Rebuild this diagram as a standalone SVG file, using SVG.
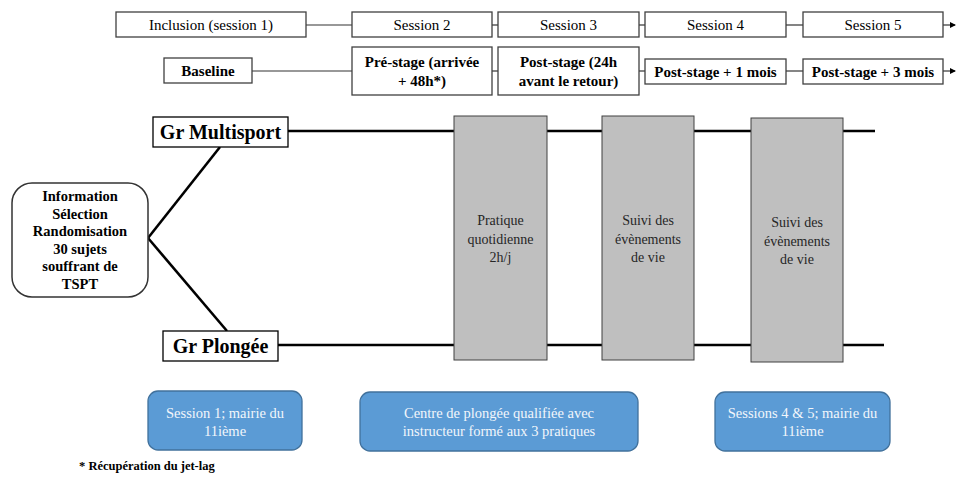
<svg xmlns="http://www.w3.org/2000/svg" width="956" height="477" viewBox="0 0 956 477">
<defs>
<marker id="arr" markerWidth="6" markerHeight="6" refX="5" refY="3" orient="auto" markerUnits="userSpaceOnUse">
<path d="M0,0 L6,3 L0,6 z" fill="#000"/>
</marker>
<style>
text{font-family:'Liberation Serif','Times New Roman',Times,'DejaVu Serif',serif;text-anchor:middle;fill:#000}
.box{fill:#fff;stroke:#404040;stroke-width:1.3}
.t14{font-size:15px}
.b13{font-size:15px;font-weight:bold}
.b18{font-size:20px;font-weight:bold}
.b14{font-size:14.5px;font-weight:bold}
.gray{fill:#BFBFBF;stroke:#404040;stroke-width:1}
.gt{font-size:14px;fill:#262626}
.blue{fill:#5B9BD5;stroke:#41719C;stroke-width:1.3}
.wt{font-size:14.5px;fill:#F2F6FB}
.thin{stroke:#333;stroke-width:1.2;fill:none}
.thick{stroke:#000;stroke-width:2.6;fill:none}
</style>
</defs>
<rect width="956" height="477" fill="#fff"/>
<g font-family="Liberation Serif, Times New Roman, DejaVu Serif, serif">
<g id="connectors">
<line class="thin" x1="306" y1="25" x2="352" y2="25"/>
<line class="thin" x1="492" y1="25" x2="498" y2="25"/>
<line class="thin" x1="639" y1="25" x2="645" y2="25"/>
<line class="thin" x1="786" y1="25" x2="803" y2="25"/>
<line class="thin" x1="943" y1="25" x2="955" y2="25" marker-end="url(#arr)"/>
<line class="thin" x1="252" y1="71" x2="352" y2="71"/>
<line class="thin" x1="492" y1="71" x2="498" y2="71"/>
<line class="thin" x1="639" y1="71" x2="645" y2="71"/>
<line class="thin" x1="786" y1="71" x2="803" y2="71"/>
<line class="thin" x1="943" y1="71" x2="955" y2="71" marker-end="url(#arr)"/>
<line class="thick" x1="288" y1="131" x2="875" y2="131"/>
<line class="thick" x1="278" y1="345" x2="884" y2="345"/>
<line class="thick" x1="148" y1="238" x2="220" y2="147"/>
<line class="thick" x1="148" y1="238" x2="227" y2="331"/>
</g>
<g id="inclusion"><rect class="box" x="116" y="12" width="190" height="25"/><text class="t14" x="211" y="30">Inclusion (session 1)</text></g>
<g id="session2"><rect class="box" x="352" y="12" width="140" height="25"/><text class="t14" x="422" y="30">Session 2</text></g>
<g id="session3"><rect class="box" x="498" y="12" width="141" height="25"/><text class="t14" x="568.5" y="30">Session 3</text></g>
<g id="session4"><rect class="box" x="645" y="12" width="141" height="25"/><text class="t14" x="715.5" y="30">Session 4</text></g>
<g id="session5"><rect class="box" x="803" y="12" width="140" height="25"/><text class="t14" x="873" y="30">Session 5</text></g>
<g id="baseline"><rect class="box" x="164" y="58" width="88" height="25"/><text class="b13" x="208" y="76">Baseline</text></g>
<g id="prestage"><rect class="box" x="352" y="47" width="140" height="48"/><text class="b13" x="422" y="67">Pré-stage (arrivée</text><text class="b13" x="422" y="86">+ 48h*)</text></g>
<g id="poststage"><rect class="box" x="498" y="47" width="141" height="48"/><text class="b13" x="568.5" y="67">Post-stage (24h</text><text class="b13" x="568.5" y="86">avant le retour)</text></g>
<g id="post1"><rect class="box" x="645" y="59" width="141" height="25"/><text class="b13" x="715.5" y="76.5">Post-stage + 1 mois</text></g>
<g id="post3"><rect class="box" x="803" y="59" width="140" height="25"/><text class="b13" x="873" y="76.5">Post-stage + 3 mois</text></g>
<g id="info"><rect class="box" x="12" y="183" width="136" height="114" rx="20" ry="20" style="stroke:#333;stroke-width:1.5"/>
<text class="b14" x="80" y="201">Information</text>
<text class="b14" x="80" y="219">Sélection</text>
<text class="b14" x="80" y="236">Randomisation</text>
<text class="b14" x="80" y="254">30 sujets</text>
<text class="b14" x="80" y="271">souffrant de</text>
<text class="b14" x="80" y="289">TSPT</text></g>
<g id="multisport"><rect class="box" x="153" y="117" width="135" height="30" style="stroke:#000"/><text class="b18" x="220.5" y="139">Gr Multisport</text></g>
<g id="plongee"><rect class="box" x="163" y="331" width="115" height="30" style="stroke:#000"/><text class="b18" x="220.5" y="353">Gr Plongée</text></g>
<g id="pratique"><rect class="gray" x="454" y="116" width="93" height="244"/><text class="gt" x="500.5" y="225">Pratique</text><text class="gt" x="500.5" y="244">quotidienne</text><text class="gt" x="500.5" y="262">2h/j</text></g>
<g id="suivi1"><rect class="gray" x="602" y="116" width="92" height="244"/><text class="gt" x="648" y="225">Suivi des</text><text class="gt" x="648" y="244">évènements</text><text class="gt" x="648" y="262">de vie</text></g>
<g id="suivi2"><rect class="gray" x="751" y="118" width="92" height="244"/><text class="gt" x="797" y="227">Suivi des</text><text class="gt" x="797" y="246">évènements</text><text class="gt" x="797" y="264">de vie</text></g>
<g id="lieu1"><rect class="blue" x="148" y="391" width="154" height="59" rx="10" ry="10"/><text class="wt" x="225" y="418">Session 1; mairie du</text><text class="wt" x="225" y="436">11ième</text></g>
<g id="lieu2"><rect class="blue" x="360" y="392" width="278" height="59" rx="10" ry="10"/><text class="wt" x="499" y="418">Centre de plongée qualifiée avec</text><text class="wt" x="499" y="436">instructeur formé aux 3 pratiques</text></g>
<g id="lieu3"><rect class="blue" x="715" y="392" width="175" height="59" rx="10" ry="10"/><text class="wt" x="802.5" y="418">Sessions 4 &amp; 5; mairie du</text><text class="wt" x="802.5" y="436">11ième</text></g>
<text x="79" y="470" style="font-size:12.5px;font-weight:bold;text-anchor:start">* Récupération du jet-lag</text>
</g>
</svg>
